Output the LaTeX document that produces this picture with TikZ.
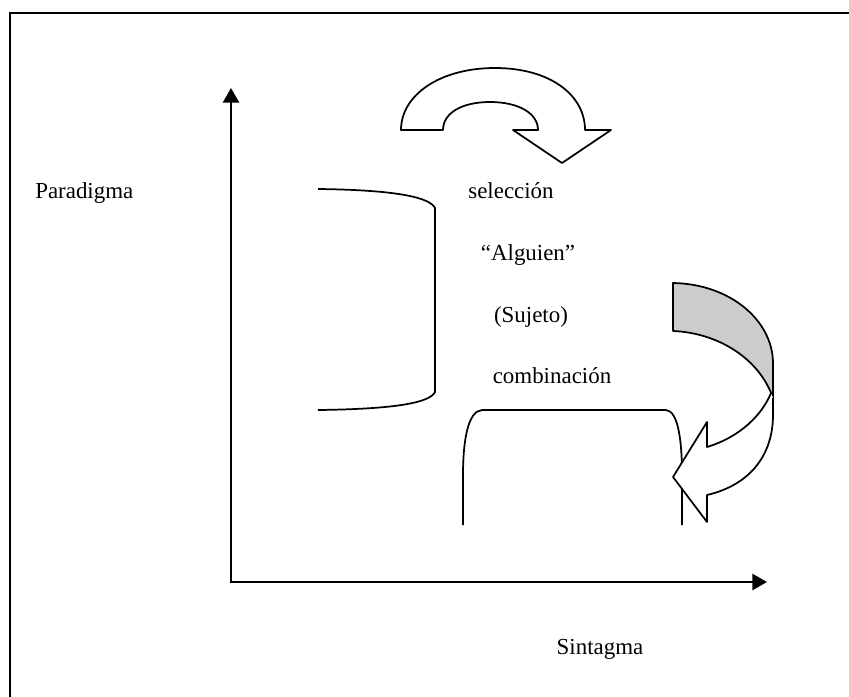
\documentclass[tikz,border=0pt]{standalone}
\usepackage{fontspec}
\setmainfont{Liberation Serif}
\usetikzlibrary{arrows.meta}
\begin{document}
\begin{tikzpicture}[x=0.75pt,y=-0.75pt,
  label/.style={inner sep=0pt,anchor=base,font=\fontsize{17.2pt}{21pt}\selectfont},
  axis/.style={line width=2pt,-{Triangle[length=11pt,width=12pt]}},
  outline/.style={line width=1.3pt,line join=round}]
\useasboundingbox (0,0) rectangle (849,696);
\fill[white] (0,0) rectangle (849,696);
% frame, running past the right and bottom edges
\begin{scope}
\clip (0,0) rectangle (849,696);
\draw[line width=1.5pt] (10,13) rectangle (900,760);
\end{scope}

% axes
\coordinate (origin) at (231,582);
\coordinate (ytop) at (231,88);
\coordinate (xend) at (767,582);
\draw[axis] (origin) -- (ytop);
\draw[axis] ([xshift=-1pt]origin) -- (xend);

% labels
\node[label,anchor=base west] (paradigma) at (35,198) {Paradigma};
\node[label] (seleccion) at (511,198) {selección};
\node[label] (alguien) at (528,260) {“Alguien”};
\node[label] (sujeto) at (531,322) {(Sujeto)};
\node[label] (combinacion) at (552,383) {combinación};
\node[label] (sintagma) at (600,654) {Sintagma};

% left bracket
\draw[outline] (318,189) .. controls (400,190) and (430,198) .. (435,208)
  -- (435,392) .. controls (430,402) and (400,409) .. (318,410);

% lower box, open at the bottom
\draw[outline] (463,525) -- (463,475) .. controls (463,440) and (468,411) .. (482,410)
  -- (666,410) .. controls (678,411) and (682,440) .. (682,475) -- (682,525);

% U-turn arrow above "selección"
\draw[outline,fill=white] (401,130)
  .. controls (401,95) and (440,68) .. (495,68)
  .. controls (550,68) and (585,95) .. (585,130)
  -- (611,130) -- (562,163) -- (513,130) -- (538,130)
  .. controls (538,113) and (518,102) .. (490,102)
  .. controls (462,102) and (443,113) .. (443,130)
  -- cycle;

% curved arrow on the right: shaded back band
\draw[outline,fill=black!20] (673,283)
  .. controls (730,284) and (772,320) .. (773,362)
  -- (773,398)
  .. controls (760,360) and (720,333) .. (673,331) -- cycle;
% curved arrow on the right: front band with head
\draw[outline,fill=white] (771,393)
  .. controls (762,415) and (740,437) .. (707,447)
  -- (707,422) -- (673,477) -- (707,522) -- (707,495)
  .. controls (750,485) and (773,455) .. (773,415)
  -- (773,398);
\end{tikzpicture}
\end{document}
